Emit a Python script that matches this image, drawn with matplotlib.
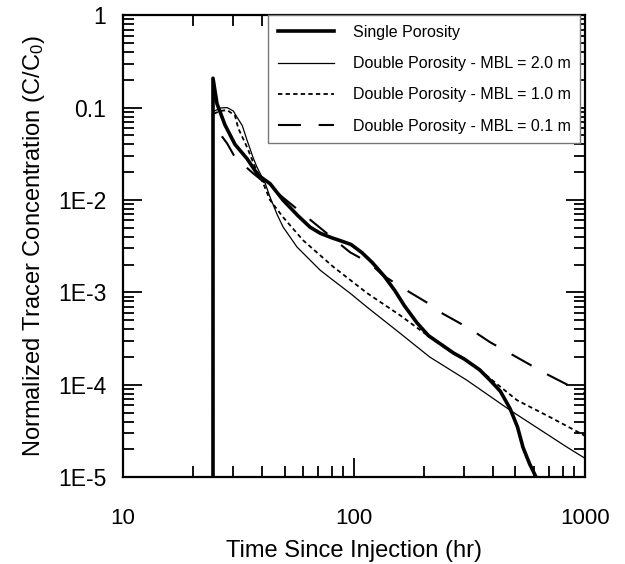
import matplotlib.pyplot as plt
import numpy as np
from matplotlib.ticker import LogLocator, NullFormatter

plt.rcParams['font.family'] = ['Liberation Sans', 'DejaVu Sans']
plt.rcParams['mathtext.default'] = 'regular'

# Single porosity
t_single = [24.5, 24.5, 25.5, 27.6, 30.5, 34.4, 38.4, 43.3, 49.3, 57.0, 64.5, 71.3, 80.0,
            88.0, 97.0, 108, 120, 135, 150, 165, 187, 210, 240, 270, 300, 350, 388, 430,
            474, 510, 539, 575, 614]
c_single = [1e-5, 0.208, 0.11, 0.065, 0.040, 0.028, 0.0186, 0.0150, 0.00995, 0.0068, 0.00508,
            0.00437, 0.0039, 0.0036, 0.0033, 0.0027, 0.0021, 0.0015, 0.00105, 0.00072,
            0.00047, 0.00034, 0.00027, 0.00022, 0.00019, 0.000145, 0.000112, 8.5e-5, 5.5e-5,
            3.5e-5, 2.1e-5, 1.4e-5, 1e-5]

# Double porosity - MBL = 2.0 m
t_mbl20 = [24.5, 24.5, 26.3, 28.2, 30.0, 31.2, 32.8, 34.4, 36.5, 38.0, 41.2, 43.3, 46.5,
           49.3, 56.6, 71.3, 81.1, 96.1, 114, 158, 213, 308, 474, 836, 1000]
c_mbl20 = [1e-5, 0.09, 0.099, 0.10, 0.092, 0.078, 0.064, 0.0444, 0.029, 0.0226, 0.0152, 0.0107,
           0.0069, 0.0051, 0.0031, 0.00174, 0.001355, 0.00098, 0.00069, 0.000362, 0.000199,
           0.000112, 5.3e-5, 2.11e-5, 1.6e-5]

# Double porosity - MBL = 1.0 m
t_mbl10 = [24.5, 24.5, 26.3, 28.2, 30.5, 31.5, 34.4, 37.3, 40.4, 43.3, 49.3, 60.1, 81.1, 114,
           158, 199, 260, 300, 350, 400, 508, 706, 951, 1000]
c_mbl10 = [1e-5, 0.085, 0.092, 0.094, 0.082, 0.06, 0.0373, 0.0226, 0.0152, 0.00995, 0.0065,
           0.00367, 0.0019, 0.00098, 0.000566, 0.000371, 0.00023, 0.00019, 0.000145, 0.00011,
           6.8e-5, 4.46e-5, 3.0e-5, 2.8e-5]

# Double porosity - MBL = 0.1 m
t_mbl01 = [24.5, 24.5, 25.0, 28.2, 30.5, 36.5, 47.8, 58.4, 96.0, 117, 133, 155, 174, 209,
           236, 282, 324, 388, 684, 1000]
c_mbl01 = [1e-5, 0.064, 0.0615, 0.041, 0.029, 0.0195, 0.0113, 0.0075, 0.00272, 0.00207,
           0.00154, 0.0012, 0.001005, 0.000764, 0.00061, 0.000476, 0.00039, 0.000289,
           0.00013, 8.0e-5]

x_ticks = [10, 100, 1000]
x_labels = ['10', '100', '1000']
y_ticks = [1e-5, 1e-4, 1e-3, 1e-2, 0.1, 1]
y_labels = ['1E-5', '1E-4', '1E-3', '1E-2', '0.1', '1']

fig = plt.figure(figsize=(6.25, 5.64), dpi=100)
ax = fig.add_axes([0.197, 0.154, 0.739, 0.819])

ax.plot(t_single, c_single, color='black', linewidth=2.6, label='Single Porosity')
ax.plot(t_mbl20, c_mbl20, color='black', linewidth=0.9, label='Double Porosity - MBL = 2.0 m')
ax.plot(t_mbl10, c_mbl10, color='black', linewidth=1.3, dashes=(2.4, 1.8),
        label='Double Porosity - MBL = 1.0 m')
ax.plot(t_mbl01, c_mbl01, color='black', linewidth=1.5, dashes=(11, 8.5),
        label='Double Porosity - MBL = 0.1 m')

ax.set_xscale('log')
ax.set_yscale('log')
ax.set_xlim(10, 1000)
ax.set_ylim(1e-5, 1)

ax.set_xticks(x_ticks, x_labels)
ax.set_yticks(y_ticks, y_labels)
ax.xaxis.set_minor_locator(LogLocator(base=10, subs=np.arange(2, 10)))
ax.yaxis.set_minor_locator(LogLocator(base=10, subs=np.arange(2, 10)))
ax.xaxis.set_minor_formatter(NullFormatter())
ax.yaxis.set_minor_formatter(NullFormatter())

ax.tick_params(which='both', direction='in', top=True, right=True, width=1.3, color='black')
ax.tick_params(which='major', length=14)
ax.tick_params(which='minor', length=8)
ax.tick_params(axis='x', which='major', labelsize=16, pad=22)
ax.tick_params(axis='y', which='major', labelsize=16.5, pad=12)
for s in ax.spines.values():
    s.set_linewidth(1.6)

ax.set_xlabel('Time Since Injection (hr)', fontsize=17, labelpad=8)
ax.set_ylabel('Normalized Tracer Concentration (C/C$_0$)', fontsize=17, labelpad=8)

leg = ax.legend(loc='upper right', bbox_to_anchor=(0.99, 1.0), fontsize=11.5,
                frameon=True, fancybox=False, framealpha=1, edgecolor='#777777',
                handlelength=3.5, handletextpad=1.2, labelspacing=1.02,
                borderpad=0.6, borderaxespad=0)
leg.get_frame().set_linewidth(1.0)

fig.savefig('out.png', dpi=100)
